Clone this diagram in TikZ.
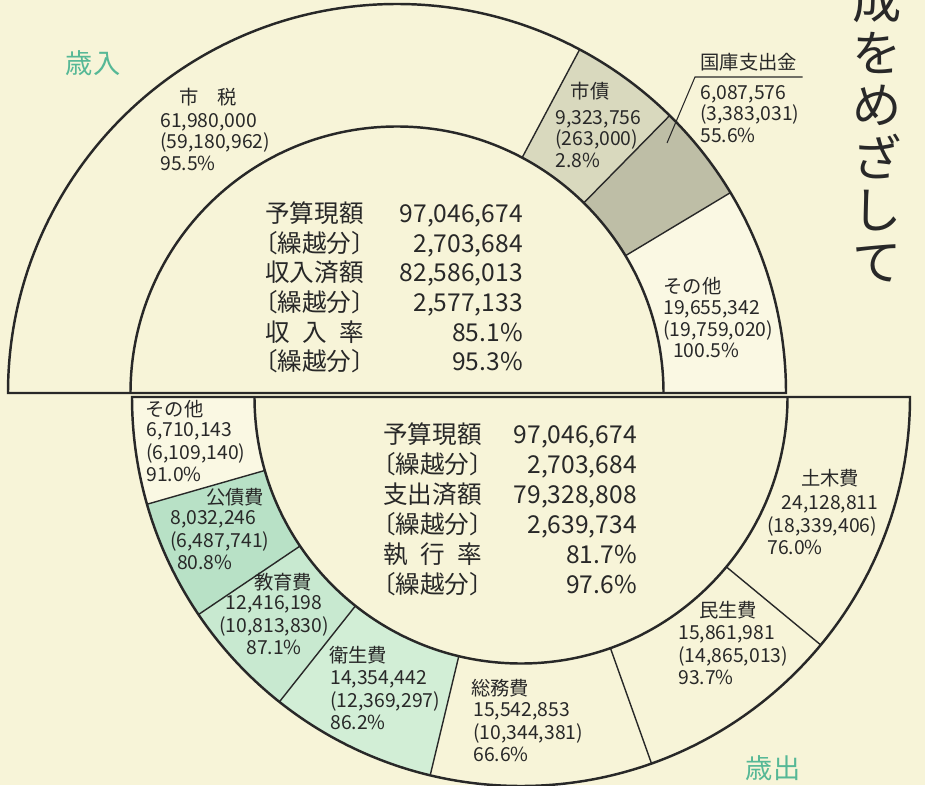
\documentclass[tikz,border=0pt]{standalone}
\usepackage{fontspec}
\setmainfont{Noto Sans CJK JP}
\usepackage{array}
\usetikzlibrary{calc}
\definecolor{paper}{RGB}{247,244,216}
\definecolor{sonota}{RGB}{250,248,227}
\definecolor{shisai}{RGB}{217,217,190}
\definecolor{kokko}{RGB}{190,190,166}
\definecolor{kousai}{RGB}{184,225,198}
\definecolor{kyouiku}{RGB}{200,233,208}
\definecolor{eisei}{RGB}{210,238,214}
\definecolor{midori}{RGB}{86,184,150}
\definecolor{sumi}{RGB}{40,40,40}
\def\ringpart[#1](#2)(#3:#4){\fill[#1] ($(#2)+(#3:7.78)$) arc (#3:#4:7.78) -- ($(#2)+(#4:5.33)$) arc (#4:#3:5.33) -- cycle;}
\def\spoke[#1](#2)(#3){\draw[#1] ($(#2)+(#3:5.33)$) -- ($(#2)+(#3:7.78)$);}
\newcommand{\kurikoshi}{\makebox[4em][c]{〔繰越分〕}}
\newcommand{\spreadfour}[1]{\makebox[4em][s]{#1}}

\begin{document}
\begin{tikzpicture}[
	ring/.style={line width=1.4pt, color=sumi},
	divider/.style={line width=0.8pt, color=sumi},
	segtitle/.style={inner sep=0, font=\fontsize{11}{12}\selectfont, color=sumi},
	segdata/.style={inner sep=0, align=left, anchor=north west, font=\fontsize{11}{12.3}\selectfont, color=sumi},
	segdatab/.style={segdata, font=\fontsize{11}{12.9}\selectfont},
	totals/.style={inner sep=0, anchor=base west, color=sumi},
	bigword/.style={inner sep=0, font=\fontsize{15.5}{16}\selectfont, color=midori}
	]
			%%%%% PAGE %%%%%
			
			\useasboundingbox (0, -7.8) rectangle (18.5, 7.9);
			\fill[paper] (0, -7.8) rectangle (18.5, 7.9);
			
			\coordinate (up) at (7.94, 0.04);
			\coordinate (lo) at (10.42, -0.04);
			
			%%%%% REVENUE %%%%%
			
			\ringpart[shisai](up)(45.5:62)
			\ringpart[kokko](up)(31:45.5)
			\ringpart[sonota](up)(0:31)
			
			\spoke[divider](up)(62)
			\spoke[divider](up)(45.5)
			\spoke[divider](up)(31)
			
			%%%%% EXPENDITURE %%%%%
			
			\ringpart[sonota](lo)(180:196)
			\ringpart[kousai](lo)(196:214)
			\ringpart[kyouiku](lo)(214:231.6)
			\ringpart[eisei](lo)(231.6:256.5)
			
			\spoke[divider](lo)(196)
			\spoke[divider](lo)(214)
			\spoke[divider](lo)(231.6)
			\spoke[divider](lo)(256.5)
			\spoke[divider](lo)(289.6)
			\spoke[divider](lo)(320.4)
			
			\draw[ring] ($(up)+(7.78,0)$) arc (0:180:7.78) -- cycle;
			\draw[ring] ($(up)+(5.33,0)$) arc (0:180:5.33);
			\draw[ring] ($(lo)+(7.78,0)$) arc (0:-180:7.78) -- cycle;
			\draw[ring] ($(lo)+(5.33,0)$) arc (0:-180:5.33);
			
			%%%%% TOTALS %%%%%
			
			\node[totals, font=\fontsize{14}{16.6}\selectfont] (inTotal) at (5.30, 3.45) {\begin{tabular}[t]{@{}l@{}>{\raggedleft\arraybackslash}p{3.18cm}@{}}
				予算現額 & 97,046,674\\
				\kurikoshi & 2,703,684\\
				収入済額 & 82,586,013\\
				\kurikoshi & 2,577,133\\
				\spreadfour{収\hfill 入\hfill 率} & 85.1\%\\
				\kurikoshi & 95.3\%
			\end{tabular}};
			
			\node[totals, font=\fontsize{14}{17}\selectfont] (outTotal) at (7.66, -0.97) {\begin{tabular}[t]{@{}l@{}>{\raggedleft\arraybackslash}p{3.1cm}@{}}
				予算現額 & 97,046,674\\
				\kurikoshi & 2,703,684\\
				支出済額 & 79,328,808\\
				\kurikoshi & 2,639,734\\
				\spreadfour{執\hfill 行\hfill 率} & 81.7\%\\
				\kurikoshi & 97.6\%
			\end{tabular}};
			
			%%%%% REVENUE LABELS %%%%%
			
			\node[segtitle] (zeiT) at (4.16, 5.96) {市　税};
			\node[segdata] (zei) at (3.20, 5.64) {61,980,000\\(59,180,962)\\95.5\%};
			
			\node[segtitle] (shisaiT) at (11.80, 6.08) {市債};
			\node[segdata] (shisai) at (11.10, 5.70) {9,323,756\\(263,000)\\2.8\%};
			
			\node[segtitle, inner ysep=3pt, minimum width=2.14cm, anchor=south west] (kokkoT) at (13.90, 6.36) {国庫支出金};
			\coordinate (kokkoE) at (13.34, 5.04);
			\draw[line width=0.6pt, color=sumi] (kokkoT.south east) -- (kokkoT.south west) -- (kokkoE);
			\node[segdata] (kokko) at (14.00, 6.20) {6,087,576\\(3,383,031)\\55.6\%};
			
			\node[segtitle, anchor=west] (sonotaT) at (13.26, 2.18) {その他};
			\node[segdata] (sonota) at (13.26, 1.90) {19,655,342\\(19,759,020)\\\hspace*{0.5em}100.5\%};
			
			%%%%% EXPENDITURE LABELS %%%%%
			
			\node[segtitle, anchor=west] (sonota2T) at (2.90, -0.28) {その他};
			\node[segdatab] (sonota2) at (2.92, -0.54) {6,710,143\\(6,109,140)\\91.0\%};
			
			\node[segtitle] (kousaiT) at (4.70, -2.04) {公債費};
			\node[segdatab] (kousai) at (3.40, -2.30) {8,032,246\\(6,487,741)\\\hspace*{0.35em}80.8\%};
			
			\node[segtitle] (kyouikuT) at (5.66, -3.74) {教育費};
			\node[segdatab, align=center, anchor=north] (kyouiku) at (5.48, -4.00) {12,416,198\\(10,813,830)\\87.1\%};
			
			\node[segtitle] (eiseiT) at (7.16, -5.20) {衛生費};
			\node[segdatab] (eisei) at (6.60, -5.50) {14,354,442\\(12,369,297)\\86.2\%};
			
			\node[segtitle] (soumuT) at (10.00, -5.86) {総務費};
			\node[segdatab] (soumu) at (9.46, -6.14) {15,542,853\\(10,344,381)\\66.6\%};
			
			\node[segtitle] (minseiT) at (14.56, -4.30) {民生費};
			\node[segdatab] (minsei) at (13.56, -4.60) {15,861,981\\(14,865,013)\\93.7\%};
			
			\node[segtitle] (dobokuT) at (16.60, -1.66) {土木費};
			\node[segdatab] (doboku) at (15.34, -2.00) {\hspace*{0.75em}24,128,811\\(18,339,406)\\76.0\%};
			
			%%%%% HEADINGS %%%%%
			
			\node[bigword] (sainyu) at (1.86, 6.64) {歳入};
			\node[bigword] (saishutsu) at (15.46, -7.46) {歳出};
			\node[inner sep=0, align=center, font=\fontsize{28}{29.8}\selectfont, color=sumi] (title) at (17.54, 5.30) {成\\を\\め\\ざ\\し\\て};
			
\end{tikzpicture}
\end{document}
